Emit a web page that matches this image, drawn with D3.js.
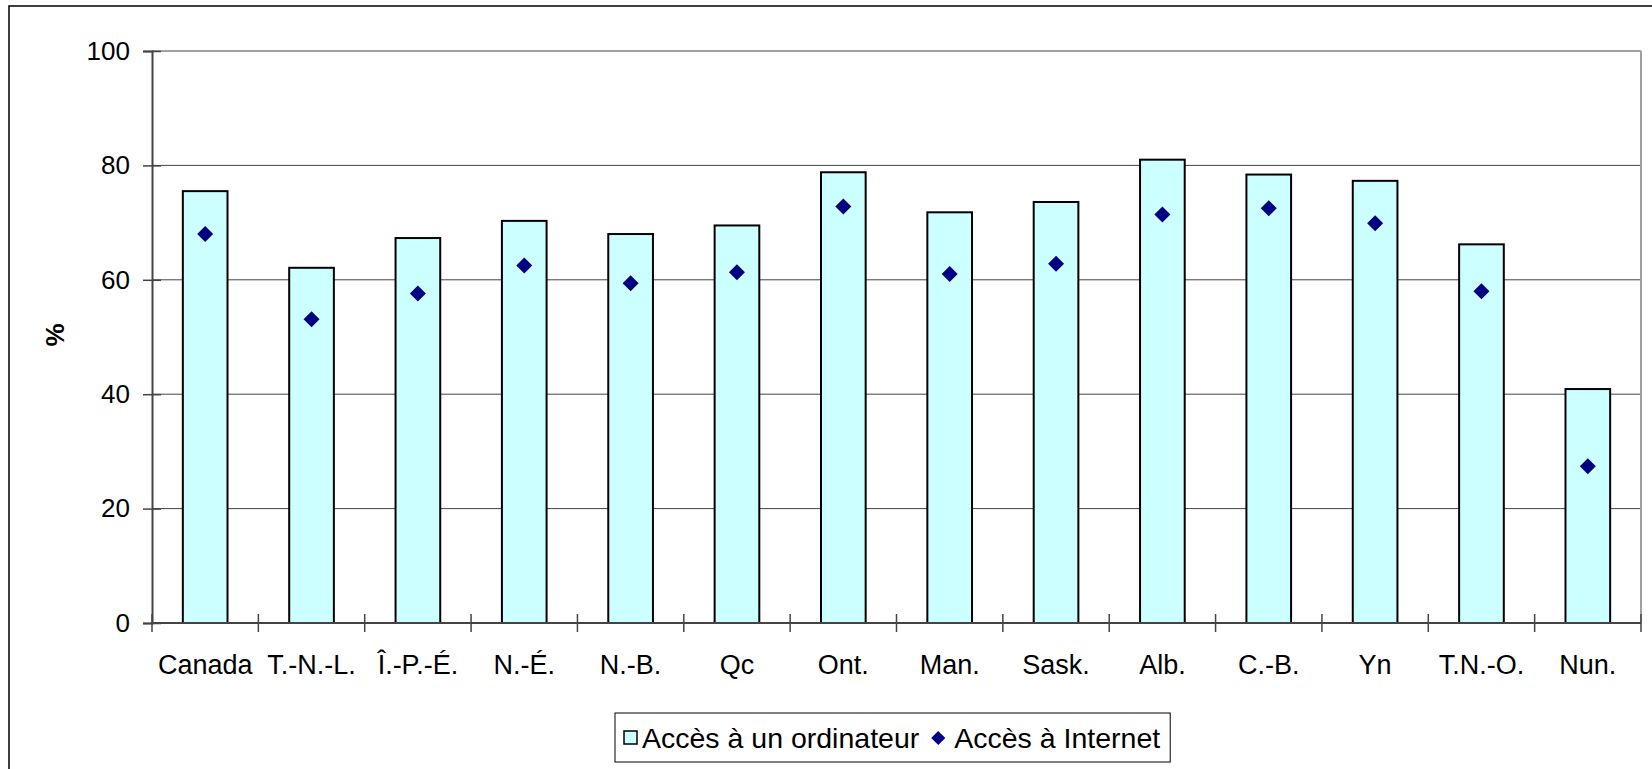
<!DOCTYPE html>
<html>
<head>
<meta charset="utf-8">
<script src="https://cdn.jsdelivr.net/npm/d3@7"></script>
<style>
    body { margin: 0; background: #fff; }
    svg { display: block; font-family: "Liberation Sans", Arial, sans-serif; }
</style>
</head>
<body>
<svg id="chart" width="1652" height="769"></svg>
<script>

//data
var categories = ["Canada", "T.-N.-L.", "Î.-P.-É.", "N.-É.", "N.-B.", "Qc", "Ont.", "Man.", "Sask.", "Alb.", "C.-B.", "Yn", "T.N.-O.", "Nun."];
var computer_values = [75.5, 62.1, 67.3, 70.3, 68.0, 69.5, 78.8, 71.8, 73.6, 81.0, 78.4, 77.3, 66.2, 40.9];
var internet_values = [68.0, 53.1, 57.6, 62.5, 59.4, 61.3, 72.8, 61.0, 62.8, 71.4, 72.5, 69.9, 58.0, 27.4];
var y_ticks = [0, 20, 40, 60, 80, 100];
var series_names = ["Accès à un ordinateur", "Accès à Internet"];

var my_data = categories.map(function(d, i) {
    return {cat: d, computer: computer_values[i], internet: internet_values[i]};
});

var svg = d3.select("#chart");

//plot area
var plot = {left: 152, right: 1641, top: 51, bottom: 623};

//outer chart border - runs off the right and bottom of the picture
svg.append("rect")
    .attr("x", 9).attr("y", 6)
    .attr("width", 1700).attr("height", 800)
    .attr("fill", "#fff")
    .attr("stroke", "#000")
    .attr("stroke-width", 1.5);

//scales
var x_scale = d3.scaleBand()
    .domain(categories)
    .range([plot.left, plot.right])
    .paddingInner(0.58)
    .paddingOuter(0.29);

var edge_scale = d3.scaleLinear()
    .domain([0, categories.length])
    .range([plot.left, plot.right]);

var y_scale = d3.scaleLinear()
    .domain([0, 100])
    .range([plot.bottom, plot.top]);

//gridlines
svg.append("g").attr("class", "grid")
    .selectAll("line")
    .data(y_ticks.slice(1))
    .enter().append("line")
    .attr("x1", plot.left).attr("x2", plot.right)
    .attr("y1", d => y_scale(d)).attr("y2", d => y_scale(d))
    .attr("stroke", "#444")
    .attr("stroke-width", 1);

//right edge of plot area
svg.append("line")
    .attr("x1", plot.right).attr("x2", plot.right)
    .attr("y1", plot.top).attr("y2", plot.bottom)
    .attr("stroke", "#a0a0a0")
    .attr("stroke-width", 2);

//bars
svg.append("g").attr("class", "bar_group")
    .selectAll("rect")
    .data(my_data)
    .enter().append("rect")
    .attr("x", d => x_scale(d.cat))
    .attr("y", d => y_scale(d.computer))
    .attr("width", x_scale.bandwidth())
    .attr("height", d => y_scale(0) - y_scale(d.computer))
    .attr("fill", "#ccffff")
    .attr("stroke", "#000")
    .attr("stroke-width", 2);

//diamonds
var diamond = d3.symbol().type(d3.symbolSquare).size(128);

svg.append("g").attr("class", "point_group")
    .selectAll("path")
    .data(my_data)
    .enter().append("path")
    .attr("d", diamond)
    .attr("transform", d => "translate(" + (x_scale(d.cat) + x_scale.bandwidth() / 2) + "," + y_scale(d.internet) + ") rotate(45)")
    .attr("fill", "#000080");

//y axis - ticks cross the axis line
var y_axis = d3.axisLeft(y_scale)
    .tickValues(y_ticks)
    .tickSize(9)
    .tickPadding(13);

var y_g = svg.append("g")
    .attr("class", "axis axis--y")
    .attr("transform", "translate(" + plot.left + ",0)")
    .call(y_axis);

y_g.select(".domain").attr("stroke", "#444").attr("stroke-width", 2);
y_g.selectAll(".tick line").attr("x1", 9).attr("stroke", "#444").attr("stroke-width", 1.5);
y_g.selectAll(".tick text")
    .attr("font-size", "26px")
    .attr("font-family", "Liberation Sans, Arial, sans-serif")
    .attr("fill", "#000");

//x axis - labels from the band scale, ticks between categories
var x_axis = d3.axisBottom(x_scale).tickSize(0).tickPadding(32);

var x_g = svg.append("g")
    .attr("class", "axis axis--x")
    .attr("transform", "translate(0," + plot.bottom + ")")
    .call(x_axis);

x_g.select(".domain").remove();
x_g.selectAll(".tick text")
    .attr("font-size", "27px")
    .attr("font-family", "Liberation Sans, Arial, sans-serif")
    .attr("fill", "#000");

x_g.append("line")
    .attr("x1", plot.left).attr("x2", plot.right)
    .attr("stroke", "#444")
    .attr("stroke-width", 2);

x_g.selectAll(".edge_tick")
    .data(d3.range(categories.length + 1))
    .enter().append("line")
    .attr("class", "edge_tick")
    .attr("x1", d => edge_scale(d)).attr("x2", d => edge_scale(d))
    .attr("y1", -9).attr("y2", 9)
    .attr("stroke", "#444")
    .attr("stroke-width", 1.5);

//y axis title
svg.append("text")
    .attr("transform", "translate(64,335) rotate(-90)")
    .attr("text-anchor", "middle")
    .attr("font-size", "26px")
    .attr("font-weight", "bold")
    .text("%");

//legend
var legend = svg.append("g").attr("class", "legend");

var legend_box = legend.append("rect")
    .attr("x", 615).attr("y", 713)
    .attr("height", 49)
    .attr("fill", "#fff")
    .attr("stroke", "#000")
    .attr("stroke-width", 1);

legend.append("rect")
    .attr("x", 624).attr("y", 731)
    .attr("width", 13).attr("height", 13)
    .attr("fill", "#ccffff")
    .attr("stroke", "#000")
    .attr("stroke-width", 1.5);

var text_1 = legend.append("text")
    .attr("x", 642).attr("y", 748)
    .attr("font-size", "28.5px")
    .text(series_names[0]);

var end_1 = 642 + text_1.node().getComputedTextLength();

legend.append("path")
    .attr("d", d3.symbol().type(d3.symbolSquare).size(100))
    .attr("transform", "translate(" + (end_1 + 19) + ",738) rotate(45)")
    .attr("fill", "#000080");

var text_2 = legend.append("text")
    .attr("x", end_1 + 35).attr("y", 748)
    .attr("font-size", "28.5px")
    .text(series_names[1]);

var end_2 = end_1 + 35 + text_2.node().getComputedTextLength();
legend_box.attr("width", end_2 + 10 - 615);

</script>
</body>
</html>
